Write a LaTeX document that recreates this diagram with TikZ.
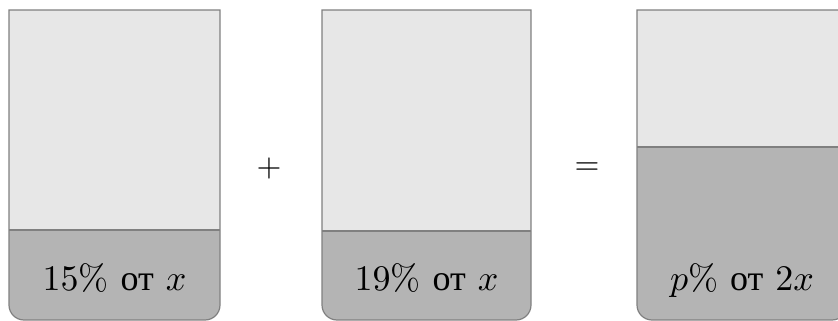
\documentclass[tikz,border=0pt]{standalone}
\usepackage{fontspec}
\newfontfamily\cyrfont[Script=Cyrillic]{Liberation Serif}
\usepackage{tikz}
\usetikzlibrary{positioning}
\definecolor{airgray}{RGB}{231,231,231}
\definecolor{liquidgray}{RGB}{180,180,180}
\definecolor{edgegray}{RGB}{128,128,128}
\newcommand{\ot}{{\cyrfont от}}
\newcommand{\enlarged}[2]{\scalebox{#1}{#2}}

\begin{document}
\begin{tikzpicture}[
    x=1pt,
    y=1pt,
    air/.style={fill=airgray},
    liquid/.style={fill=liquidgray},
    wall/.style={draw=edgegray, line width=1.2pt},
    share/.style={anchor=base, inner sep=0pt},
    sign/.style={inner sep=0pt}
]

\useasboundingbox (0,0) rectangle (838,321);
\clip (0,0) rectangle (838,321);

% vessels: left / right / level / label
\foreach \l/\r/\h/\name/\txt in {
    9/220/91/A/{$15\%$ \ot{} $x$},
    322/531/90/B/{$19\%$ \ot{} $x$},
    637/847/174/C/{$p\%$ \ot{} $2x$}}
{
    \path[air] (\l,311) rectangle (\r,\h);
    \path[liquid] (\l,\h) -- (\l,16) arc (180:270:15) -- (\r-15,1)
        arc (270:360:15) -- (\r,\h) -- cycle;
    \draw[wall] (\l,311) -- (\l,16) arc (180:270:15) -- (\r-15,1)
        arc (270:360:15) -- (\r,311) -- cycle;
    \draw[wall] (\l,\h) -- (\r,\h);
    \node[share] (\name) at ({(\l+\r)/2},30) {\enlarged{3.6}{\txt}};
}

\node[sign] (plus) at (269,152) {\enlarged{3.2}{$+$}};
\node[sign] (eq) at (587,152) {\enlarged{3.2}{$=$}};

\end{tikzpicture}
\end{document}
